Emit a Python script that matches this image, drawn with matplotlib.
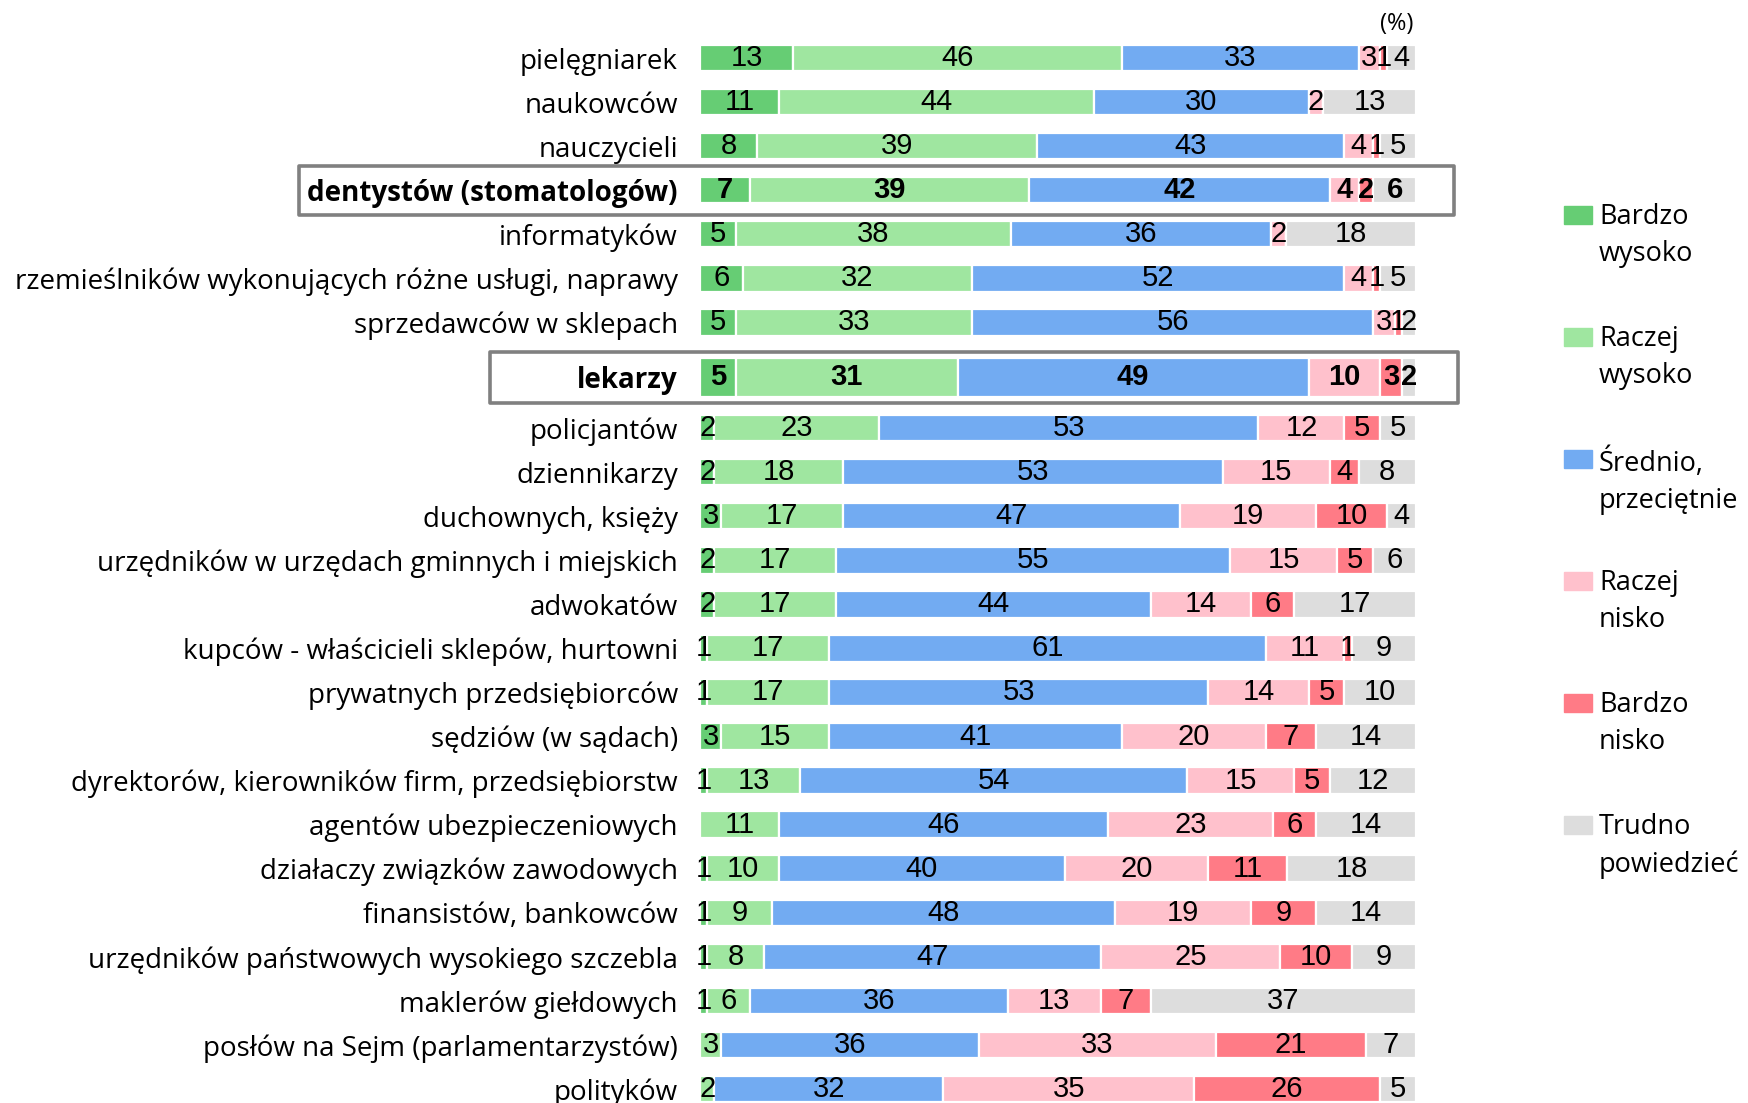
import matplotlib
matplotlib.use('Agg')
import matplotlib.pyplot as plt
import matplotlib.transforms as mtransforms
from matplotlib.patches import Rectangle
import numpy as np

# occupations, top to bottom
categories = ['pielęgniarek', 'naukowców', 'nauczycieli', 'dentystów (stomatologów)',
              'informatyków', 'rzemieślników wykonujących różne usługi, naprawy',
              'sprzedawców w sklepach', 'lekarzy', 'policjantów', 'dziennikarzy',
              'duchownych, księży', 'urzędników w urzędach gminnych i miejskich',
              'adwokatów', 'kupców - właścicieli sklepów, hurtowni',
              'prywatnych przedsiębiorców', 'sędziów (w sądach)',
              'dyrektorów, kierowników firm, przedsiębiorstw', 'agentów ubezpieczeniowych',
              'działaczy związków zawodowych', 'finansistów, bankowców',
              'urzędników państwowych wysokiego szczebla', 'maklerów giełdowych',
              'posłów na Sejm (parlamentarzystów)', 'polityków']

bardzo_wysoko = [13, 11, 8, 7, 5, 6, 5, 5, 2, 2, 3, 2, 2, 1, 1, 3, 1, 0, 1, 1, 1, 1, 0, 0]
raczej_wysoko = [46, 44, 39, 39, 38, 32, 33, 31, 23, 18, 17, 17, 17, 17, 17, 15, 13, 11, 10, 9, 8, 6, 3, 2]
srednio = [33, 30, 43, 42, 36, 52, 56, 49, 53, 53, 47, 55, 44, 61, 53, 41, 54, 46, 40, 48, 47, 36, 36, 32]
raczej_nisko = [3, 2, 4, 4, 2, 4, 3, 10, 12, 15, 19, 15, 14, 11, 14, 20, 15, 23, 20, 19, 25, 13, 33, 35]
bardzo_nisko = [1, 0, 1, 2, 0, 1, 1, 3, 5, 4, 10, 5, 6, 1, 5, 7, 5, 6, 11, 9, 10, 7, 21, 26]
trudno = [4, 13, 5, 6, 18, 5, 2, 2, 5, 8, 4, 6, 17, 9, 10, 14, 12, 14, 18, 14, 9, 37, 7, 5]

series_names = ['Bardzo\nwysoko', 'Raczej\nwysoko', 'Średnio,\nprzeciętnie',
                'Raczej\nnisko', 'Bardzo\nnisko', 'Trudno\npowiedzieć']
colors = ['#66CD74', '#9FE6A0', '#72ABF2', '#FFC1CC', '#FF7B86', '#DDDDDD']
highlight = ['dentystów (stomatologów)', 'lekarzy']

W, H = 1748, 1103
label_font = ['Open Sans', 'DejaVu Sans']
num_font = ['Liberation Sans Narrow', 'Liberation Sans', 'DejaVu Sans']

fig = plt.figure(figsize=(W / 100, H / 100), dpi=100)
ax = fig.add_axes([700 / W, 0, 716 / W, 1])

# row positions, extra room around 'lekarzy'
idx = np.arange(len(categories))
big = categories.index('lekarzy')
ypos = idx + 0.25 * (idx >= big) + 0.15 * (idx > big)
heights = np.where(idx == big, 0.87, 0.6)

unit = 44.06   # pixels per row
top = 58       # pixel centre of first row
ax.set_ylim((H - top) / unit, -top / unit)
ax.set_xlim(0, 100)

data = np.array([bardzo_wysoko, raczej_wysoko, srednio, raczej_nisko, bardzo_nisko, trudno], dtype=float)
scaled = data / data.sum(axis=0) * 100
lefts = np.zeros(len(categories))
for k in range(len(data)):
    ax.barh(ypos, scaled[k], left=lefts, height=heights, color=colors[k],
            edgecolor='white', linewidth=1.6)
    for i in range(len(categories)):
        v = data[k, i]
        if v > 0:
            bold = categories[i] in highlight
            ax.text(lefts[i] + scaled[k, i] / 2, ypos[i], '%d' % v, ha='center', va='center',
                    fontsize=21, family=num_font, fontweight='bold' if bold else 'normal')
    lefts += scaled[k]

ax.set_yticks(ypos, categories)
for t in ax.get_yticklabels():
    t.set_fontsize(20)
    t.set_family(label_font)
    if t.get_text() in highlight:
        t.set_fontweight('bold')
ax.tick_params(axis='y', length=0, pad=16)
ax.set_xticks([])
for s in ax.spines.values():
    s.set_visible(False)

# frames around highlighted rows (x in figure fraction, y in data)
trans = mtransforms.blended_transform_factory(fig.transFigure, ax.transData)
frames = {'dentystów (stomatologów)': (299, 1454, 1.12), 'lekarzy': (490, 1458, 1.16)}
for name, (x0, x1, hgt) in frames.items():
    yc = ypos[categories.index(name)]
    ax.add_patch(Rectangle((x0 / W, yc - hgt / 2), (x1 - x0) / W, hgt, transform=trans,
                           fill=False, edgecolor='#808080', linewidth=2.6,
                           joinstyle='round', clip_on=False))

# legend
for k, name in enumerate(series_names):
    yc = 215 + k * 122
    fig.patches.append(Rectangle((1564 / W, 1 - (yc + 9) / H), 28 / W, 18 / H,
                                 transform=fig.transFigure, color=colors[k]))
    fig.text(1599 / W, 1 - (yc - 12) / H, name, ha='left', va='top', fontsize=19.5,
             family=label_font, linespacing=1.45)

fig.text(1397 / W, 1 - 24 / H, '(%)', ha='center', va='center', fontsize=17, family=label_font)

fig.savefig('out.png', dpi=100)
